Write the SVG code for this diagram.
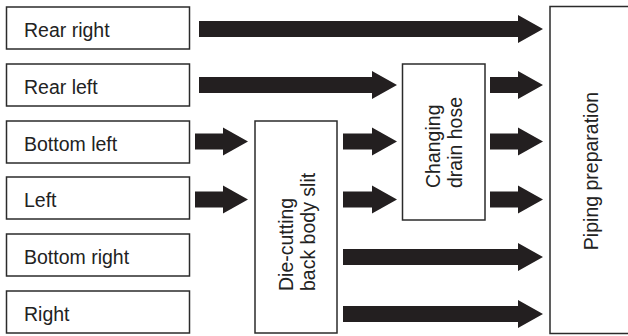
<svg xmlns="http://www.w3.org/2000/svg" width="628" height="336" viewBox="0 0 628 336">
<style>
.box{fill:#fff;stroke:#2b2b2b;stroke-width:1.5}
.lbl{font-family:"Liberation Sans",Arial,sans-serif;font-size:19.5px;fill:#222}
.arr{fill:#231f20}
</style>
<rect width="628" height="336" fill="#fff"/>
<g id="n-rear-right"><rect class="box" x="6.5" y="7" width="183" height="42"/><text class="lbl" x="24" y="36.5">Rear right</text></g>
<g id="n-rear-left"><rect class="box" x="6.5" y="64" width="183" height="42"/><text class="lbl" x="24" y="93.5">Rear left</text></g>
<g id="n-bottom-left"><rect class="box" x="6.5" y="121" width="183" height="42"/><text class="lbl" x="24" y="150.5">Bottom left</text></g>
<g id="n-left"><rect class="box" x="6.5" y="177" width="183" height="42"/><text class="lbl" x="24" y="206.5">Left</text></g>
<g id="n-bottom-right"><rect class="box" x="6.5" y="234" width="183" height="42"/><text class="lbl" x="24" y="263.5">Bottom right</text></g>
<g id="n-right"><rect class="box" x="6.5" y="291" width="183" height="42"/><text class="lbl" x="24" y="320.5">Right</text></g>
<g id="n-die-cutting"><rect class="box" x="255" y="121" width="82" height="212"/>
<text class="lbl" transform="translate(293,291) rotate(-90)">Die-cutting</text>
<text class="lbl" transform="translate(315,291) rotate(-90)">back body slit</text></g>
<g id="n-changing"><rect class="box" x="402.5" y="64" width="82.5" height="156"/>
<text class="lbl" transform="translate(440,188) rotate(-90)">Changing</text>
<text class="lbl" transform="translate(462,188) rotate(-90)">drain hose</text></g>
<g id="n-piping"><rect class="box" x="550" y="6.5" width="90" height="327"/>
<text class="lbl" text-anchor="middle" transform="translate(598,171) rotate(-90)">Piping preparation</text></g>
<g id="connectors" class="arr">
<path d="M199,21H518V15L543,29L518,43V37H199Z"/>
<path d="M199,77H372V71L397,85L372,99V93H199Z"/>
<path d="M195,133.5H223V127.5L248,141.5L223,155.5V149.5H195Z"/>
<path d="M195,191.5H223V185.5L248,199.5L223,213.5V207.5H195Z"/>
<path d="M343,133.5H372V127.5L397,141.5L372,155.5V149.5H343Z"/>
<path d="M343,191.5H372V185.5L397,199.5L372,213.5V207.5H343Z"/>
<path d="M490,77H518V71L543,85L518,99V93H490Z"/>
<path d="M490,133.5H518V127.5L543,141.5L518,155.5V149.5H490Z"/>
<path d="M490,191.5H518V185.5L543,199.5L518,213.5V207.5H490Z"/>
<path d="M343,249H518V243L543,257L518,271V265H343Z"/>
<path d="M343,306H518V300L543,314L518,328V322H343Z"/>
</g>
</svg>
